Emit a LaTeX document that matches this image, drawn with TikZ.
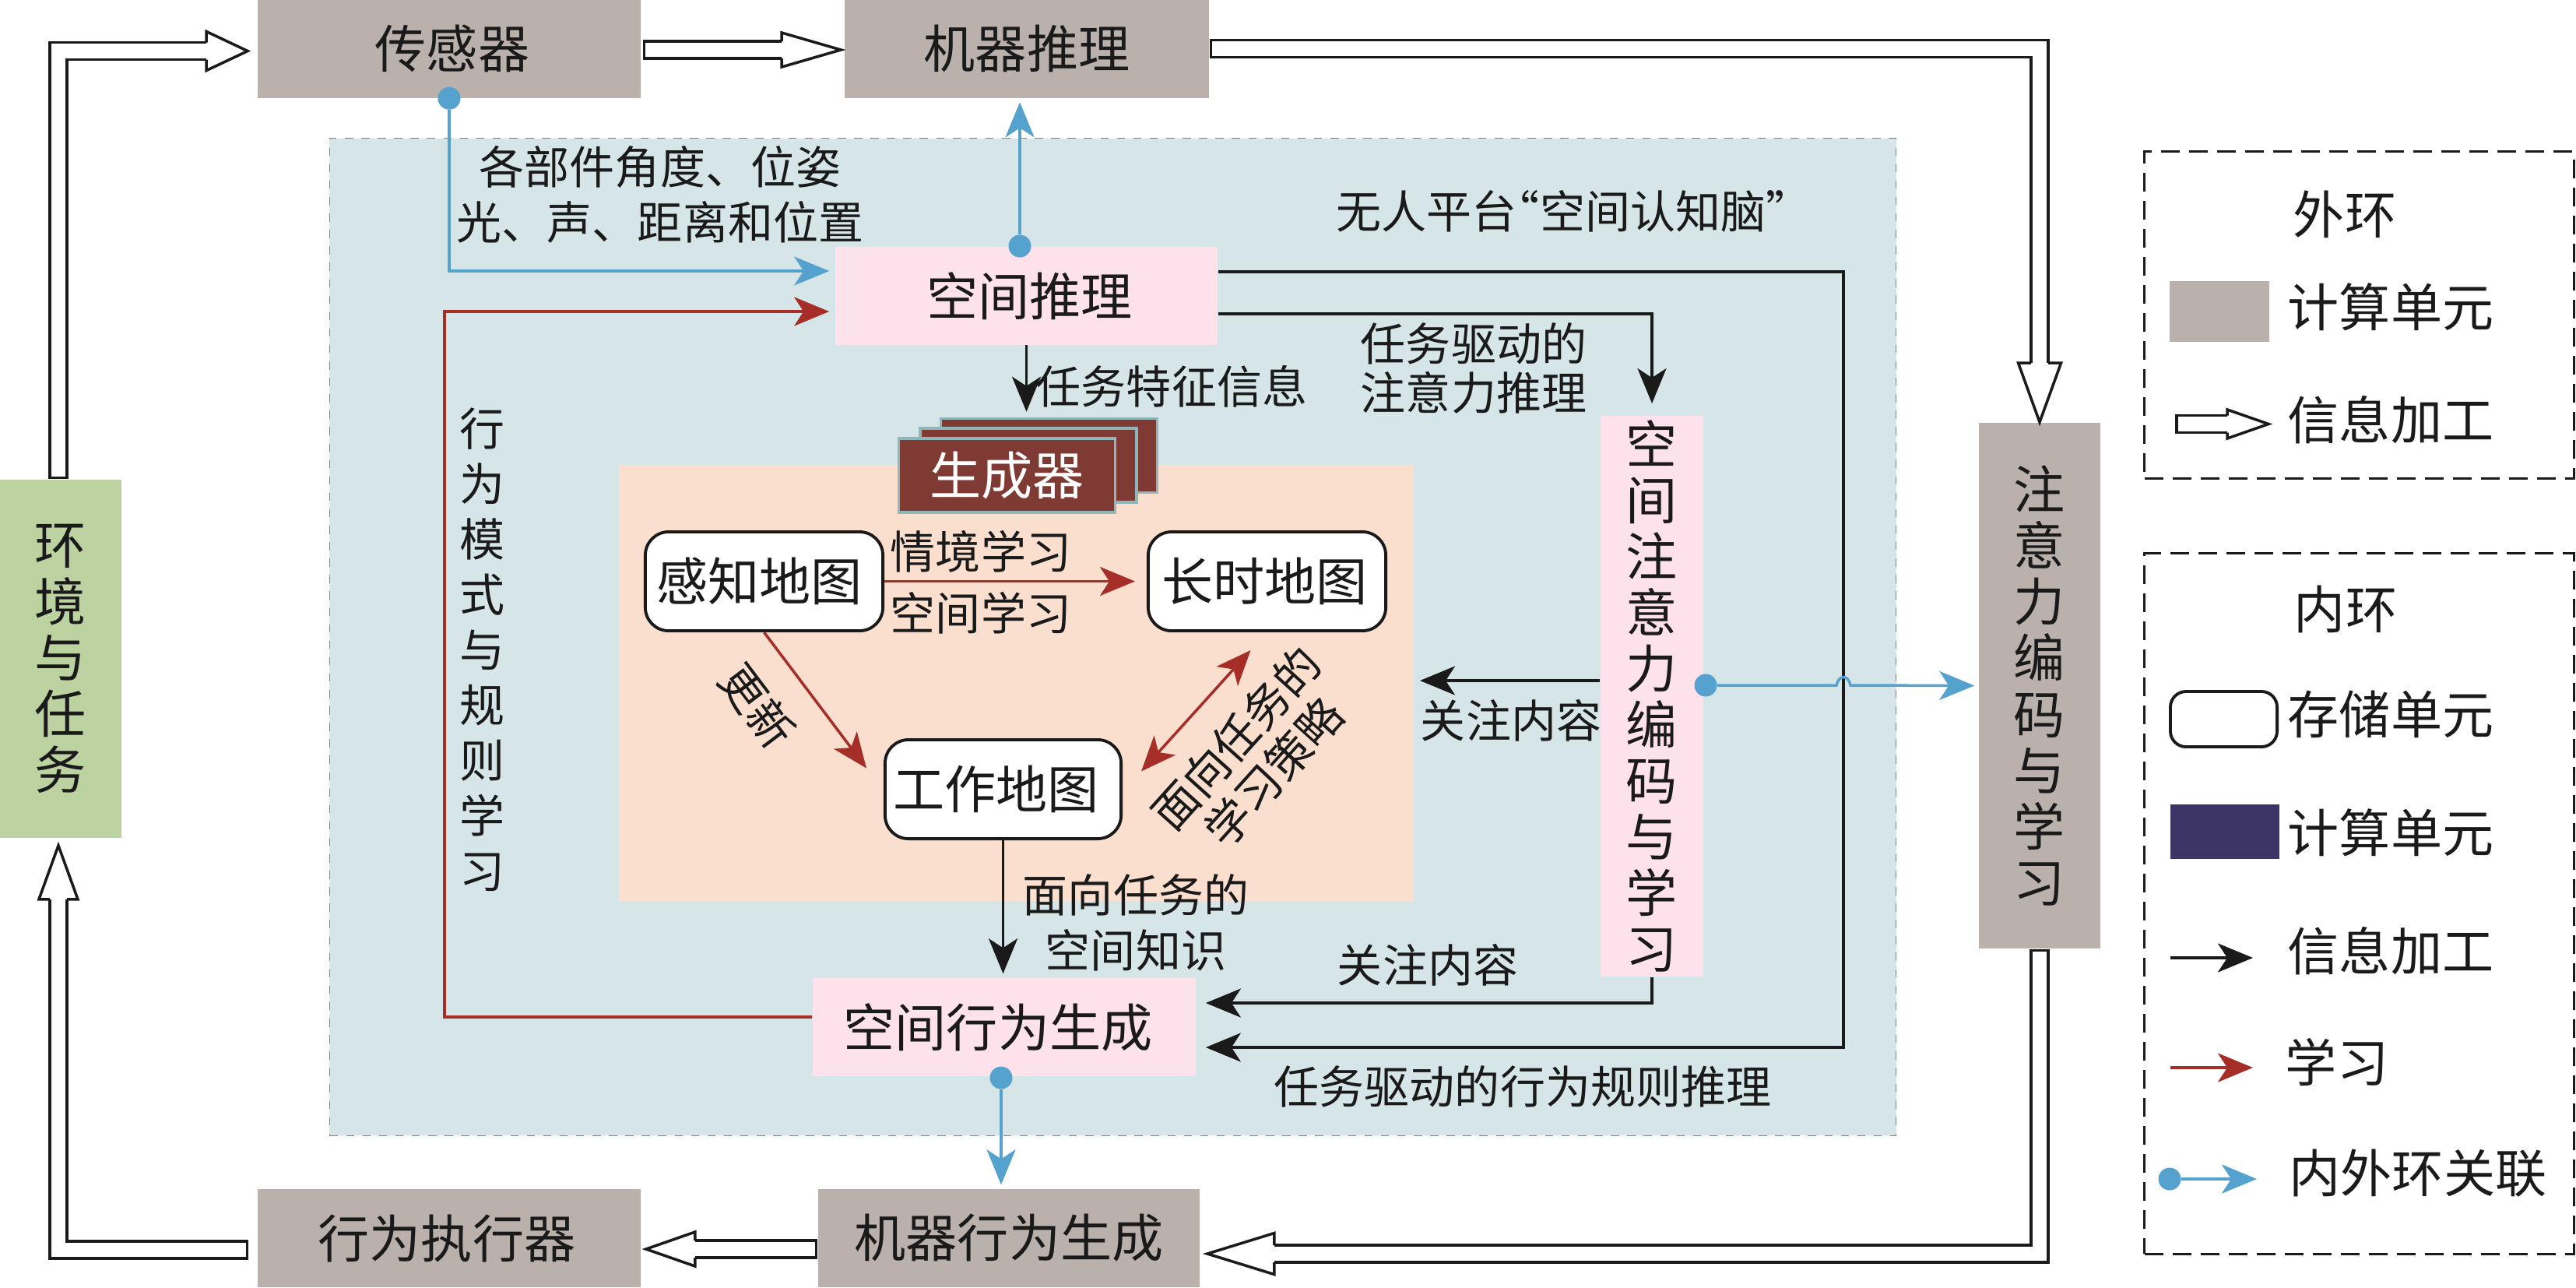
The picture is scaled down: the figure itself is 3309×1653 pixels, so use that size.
\documentclass[tikz,border=0pt]{standalone}
\usepackage{fontspec}
\setmainfont{Noto Sans CJK SC}
\usetikzlibrary{arrows.meta}

\definecolor{unitgray}{HTML}{BAB0AC}
\definecolor{brainbg}{HTML}{D6E6E8}
\definecolor{mapbg}{HTML}{FADFCE}
\definecolor{modpink}{HTML}{FDE2EC}
\definecolor{envgreen}{HTML}{BCD2A0}
\definecolor{genred}{HTML}{7F3A33}
\definecolor{genedge}{HTML}{8FB7B9}
\definecolor{learnred}{HTML}{A52F28}
\definecolor{linkblue}{HTML}{55A2CF}
\definecolor{unitnavy}{HTML}{3D3566}
\definecolor{inkblack}{HTML}{1A1A1A}

% open head for the outer loop
\pgfdeclarearrow{
  name=HollowHead,
  defaults={length=0.5cm,width=0.5cm},
  parameters={\the\pgfarrowlength,\the\pgfarrowwidth},
  setup code={
    \pgfarrowssettipend{0pt}
    \pgfarrowssetlineend{-0.9\pgfarrowlength}
    \pgfarrowssetbackend{-\pgfarrowlength}
    \pgfarrowssetvisualbackend{-\pgfarrowlength}
    \pgfarrowssavethe\pgfarrowlength
    \pgfarrowssavethe\pgfarrowwidth
  },
  drawing code={
    \pgfsetlinewidth{1pt}
    \pgfsetmiterjoin
    \pgfsetfillcolor{white}
    \pgfpathmoveto{\pgfqpoint{-\pgfarrowlength}{0.5\pgfarrowwidth}}
    \pgfpathlineto{\pgfqpoint{0pt}{0pt}}
    \pgfpathlineto{\pgfqpoint{-\pgfarrowlength}{-0.5\pgfarrowwidth}}
    \pgfpathclose
    \pgfusepathqfill
    \pgfpathmoveto{\pgfqpoint{-\pgfarrowlength}{0.11cm}}
    \pgfpathlineto{\pgfqpoint{-\pgfarrowlength}{0.5\pgfarrowwidth}}
    \pgfpathlineto{\pgfqpoint{0pt}{0pt}}
    \pgfpathlineto{\pgfqpoint{-\pgfarrowlength}{-0.5\pgfarrowwidth}}
    \pgfpathlineto{\pgfqpoint{-\pgfarrowlength}{-0.11cm}}
    \pgfusepathqstroke
  }
}

\tikzset{
  big/.style={font=\fontsize{18.8}{20.5}\selectfont,text=inkblack,align=center,inner sep=0pt},
  small/.style={font=\fontsize{16.5}{20.2}\selectfont,text=inkblack,align=center,inner sep=0pt},
  unitbox/.style={big,fill=unitgray,minimum width=4.92cm,minimum height=1.26cm},
  modbox/.style={big,fill=modpink,minimum width=4.91cm,minimum height=1.25cm},
  mapbox/.style={big,draw=inkblack,line width=1.1pt,fill=white,rounded corners=0.3cm,minimum width=3.05cm,minimum height=1.27cm},
  genbox/.style={fill=genred,draw=genedge,line width=1pt,minimum width=2.78cm,minimum height=0.95cm},
  legendbox/.style={draw=inkblack,line width=0.85pt,dash pattern=on 0.24cm off 0.12cm,minimum width=5.51cm},
  blackline/.style={draw=inkblack,line width=1pt,-{Stealth[length=0.45cm,width=0.37cm,inset=0.12cm]}},
  redline/.style={draw=learnred,line width=1pt,-{Stealth[length=0.45cm,width=0.37cm,inset=0.12cm]}},
  blueline/.style={draw=linkblue,line width=1pt,-{Stealth[length=0.45cm,width=0.37cm,inset=0.12cm]}},
  bluedot/.style={circle,fill=linkblue,inner sep=0pt,minimum size=0.29cm},
  hollow/.style 2 args={draw=inkblack,double=white,double distance=0.185cm,line width=1pt,miter limit=10,
    {Bar[width=0.255cm,line width=1pt]}-{HollowHead[length=#1,width=#2]}},
}

\begin{document}
\begin{tikzpicture}[x=0.01cm,y=-0.01cm]
  \useasboundingbox (0,0) rectangle (3309,1653);

  % panels
  \node[fill=brainbg,draw=gray,line width=0.3pt,dashed,minimum width=20.11cm,minimum height=12.8cm,inner sep=0pt] (brain) at (1429.5,818) {};
  \node[fill=mapbg,minimum width=10.21cm,minimum height=5.6cm,inner sep=0pt] (maps) at (1305.5,877) {};

  % outer loop
  \node[unitbox] (sense)   at (577,62.5)  {\hspace*{0.08cm}传感器};
  \node[unitbox,minimum width=4.68cm] (machine) at (1319,62.5) {机器推理};
  \node[unitbox] (exec)    at (577,1590)  {行为执行器\hspace*{0.06cm}};
  \node[unitbox,minimum width=4.9cm] (mgen) at (1296,1590) {机器行为生成};
  \node[big,fill=envgreen,minimum width=1.56cm,minimum height=4.6cm] (env) at (78,846) {环\\境\\与\\任\\务};
  \node[big,fill=unitgray,minimum width=1.56cm,minimum height=6.75cm] (attn) at (2620,880.5) {注\\意\\力\\编\\码\\与\\学\\习};

  % inner loop
  \node[modbox] (infer) at (1318.5,380) {\hspace*{0.08cm}空间推理};
  \node[modbox,minimum width=4.92cm,minimum height=1.26cm] (act) at (1290,1319) {空间行为生成\hspace*{0.16cm}};
  \node[big,fill=modpink,minimum width=1.32cm,minimum height=7.2cm] (enc) at (2122,894) {空\\间\\注\\意\\力\\编\\码\\与\\学\\习};

  \node[genbox] (gen3) at (1347.5,585) {};
  \node[genbox] (gen2) at (1321,597.5) {};
  \node[genbox,big,text=white] (gen1) at (1293.5,610.5) {生成器};

  \node[mapbox] (percept) at (981.5,746.5) {感知地图\hspace*{0.12cm}};
  \node[mapbox] (long)    at (1627.5,746.5) {长时地图\hspace*{0.06cm}};
  \node[mapbox,minimum width=3.03cm] (work) at (1288.5,1013.5) {工作地图\hspace*{0.18cm}};

  \node[bluedot] (dotSense) at (sense.south) {};
  \node[bluedot] (dotInfer) at (1310,316) {};
  \node[bluedot] (dotEnc)   at (2191,880) {};
  \node[bluedot] (dotAct)   at (1286,1384) {};

  \coordinate (turnRed)   at (571,853);
  \coordinate (turnOuter) at (2368,850);
  \coordinate (hopA)      at (2359,880);
  \coordinate (hopB)      at (2377,880);

  % outer loop arrows
  \draw[hollow={0.53cm}{0.5cm}] ([shift={(-3,0)}]env.north) |- ([shift={(-12,3)}]sense.west);
  \draw[hollow={0.76cm}{0.44cm}] ([shift={(2,1.5)}]sense.east) -- ([shift={(-4,1.5)}]machine.west);
  \draw[hollow={0.76cm}{0.55cm}] (machine.east) -| (attn.north);
  \draw[hollow={0.86cm}{0.53cm}] (attn.south) |- ([shift={(9,20)}]mgen.east);
  \draw[hollow={0.63cm}{0.44cm}] ([shift={(0,14)}]mgen.west) -- ([shift={(6,14)}]exec.east);
  \draw[hollow={0.69cm}{0.5cm}] ([shift={(-11,15)}]exec.west) -| ([shift={(-3,9)}]env.south);

  % inner loop arrows
  \draw[blackline] ([shift={(0,-31)}]infer.east) -| (turnOuter) |- ([shift={(12,26)}]act.east);
  \draw[blackline] ([shift={(0,23)}]infer.east) -| ([shift={(0,-15)}]enc.north);
  \draw[blackline] (enc.south) |- ([shift={(12,-31)}]act.east);
  \draw[blackline] ([shift={(0,-20)}]enc.west) -- ([shift={(7,-3)}]maps.east);
  \draw[blackline,shorten >=0.07cm] (infer.south) -- (infer.south |- gen3.north);
  \draw[blackline,shorten >=0.05cm] (work.south) -- (work.south |- act.north);

  \draw[redline] ([shift={(0,-13)}]act.west) -| (turnRed) |- ([shift={(-7,20)}]infer.west);
  \draw[redline] (percept.east) -- ([shift={(-15,0)}]long.west);
  \draw[redline] (percept.south) -- ([shift={(-22,-27)}]work.west);
  \draw[redline,{Stealth[length=0.45cm,width=0.37cm,inset=0.12cm]}-{Stealth[length=0.45cm,width=0.37cm,inset=0.12cm]}] ([shift={(24,-23)}]work.east) -- ([shift={(-21,23)}]long.south);

  \draw[blueline] (dotSense) |- ([shift={(-7,-32)}]infer.west);
  \draw[blueline] (dotInfer) -- ([shift={(-9,5)}]machine.south);
  \draw[blueline] (dotEnc) -- (hopA) .. controls (2362,866) and (2374,866) .. (hopB) -- ([shift={(-5,0)}]attn.west);
  \draw[blueline,shorten >=0.05cm] (dotAct) -- (dotAct |- mgen.north);

  % labels
  \node[small] (lbSensor) at (848,250) {各部件角度、位姿\\光、声、距离和位置};
  \node[small] (lbBrain)  at (2021.5,271) {无人平台\kern-0.5em“空间认知脑”};
  \node[small] (lbTask)   at (1505,496) {任务特征信息};
  \node[small] (lbAttn)   at (1893,473) {任务驱动的\\[-0.08cm]注意力推理};
  \node[small] (lbRule)   at (620,834)  {行\\为\\模\\式\\与\\规\\则\\学\\习};
  \node[small] (lbEpis)   at (1260,708) {情境学习};
  \node[small] (lbSpat)   at (1260,787) {空间学习};
  \node[small,rotate=-53] (lbUpdate) at (973,906) {更新};
  \node[small,rotate=48]  (lbStrat)  at (1612,970) {面向任务的\\[-0.06cm]学习策略};
  \node[small] (lbFocusA) at (1941,925) {关注内容};
  \node[small] (lbFocusB) at (1834,1239) {关注内容};
  \node[small] (lbKnow)   at (1459,1185) {面向任务的\\空间知识};
  \node[small] (lbDrive)  at (1956,1395) {任务驱动的行为规则推理};

  % outer legend
  \node[legendbox,minimum height=4.19cm] (lgOuter) at (3030.5,404.5) {};
  \node[big] (lgOuterT) at (3012,275) {外环};
  \node[fill=unitgray,minimum width=1.28cm,minimum height=0.78cm,inner sep=0pt] (lgGray) at (2851,400) {};
  \node[big] (lgGrayT)  at (3071,394) {计算单元};
  \coordinate (lgHollowA) at (2794,544.5);
  \coordinate (lgHollowB) at (2914,544.5);
  \draw[hollow={0.53cm}{0.37cm}] (lgHollowA) -- (lgHollowB);
  \node[big] (lgHollowT) at (3071,539) {信息加工};

  % inner legend
  \node[legendbox,minimum height=8.99cm] (lgInner) at (3030.5,1160.5) {};
  \node[big] (lgInnerT) at (3013,782) {内环};
  \node[draw=inkblack,line width=1.1pt,rounded corners=0.2cm,minimum width=1.37cm,minimum height=0.71cm,inner sep=0pt] (lgStore) at (2856.5,923.5) {};
  \node[big] (lgStoreT) at (3071,917) {存储单元};
  \node[fill=unitnavy,minimum width=1.4cm,minimum height=0.7cm,inner sep=0pt] (lgNavy) at (2858,1068) {};
  \node[big] (lgNavyT) at (3071,1069) {计算单元};
  \coordinate (lgBlackA) at (2788,1230);
  \coordinate (lgBlackB) at (2894,1230);
  \draw[blackline] (lgBlackA) -- (lgBlackB);
  \node[big] (lgBlackT) at (3071,1221) {信息加工};
  \coordinate (lgRedA) at (2788,1371);
  \coordinate (lgRedB) at (2894,1371);
  \draw[redline] (lgRedA) -- (lgRedB);
  \node[big] (lgRedT) at (3002,1364) {学习};
  \node[bluedot] (lgDot) at (2787,1514) {};
  \coordinate (lgBlueB) at (2899,1514);
  \draw[blueline] (lgDot) -- (lgBlueB);
  \node[big] (lgBlueT) at (3106,1507) {内外环关联};
\end{tikzpicture}
\end{document}
